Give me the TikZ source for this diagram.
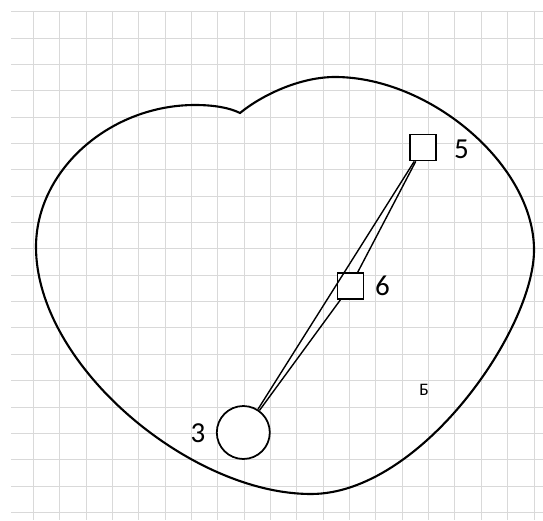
\documentclass[tikz,border=0pt]{standalone}
\usepackage{fontspec}
\setmainfont{Carlito}
\begin{document}
\begin{tikzpicture}[x=0.02cm,y=-0.02cm,
    cell/.style={draw=black!15,line width=0.5pt},
    box/.style={draw,fill=white,line width=1pt,minimum size=0.52cm,inner sep=0pt},
    ring/.style={draw,fill=white,circle,line width=1pt,minimum size=1.06cm,inner sep=0pt},
    num/.style={font=\fontsize{16.5}{18}\selectfont,inner sep=0pt},
    link/.style={line width=0.8pt}]
    \useasboundingbox (0,0) rectangle (543,520);

    % grid
    \foreach \k in {0,...,19} {
        \draw[cell] (11,11.7+26.35*\k) -- (543,11.7+26.35*\k);
        \draw[cell] (33.3+26.35*\k,11) -- (33.3+26.35*\k,520);
    }

    % outline
    \draw[line width=1.2pt] (240,113) .. controls (262,95) and (300,77) .. (335,77)
        .. controls (430,77) and (534,165) .. (534,250)
        .. controls (534,330) and (420,494) .. (311,494)
        .. controls (190,494) and (36,365) .. (36,247)
        .. controls (36,170) and (110,105) .. (195,105)
        .. controls (215,105) and (230,108) .. (240,113) -- cycle;

    \node[box] (s5) at (423,147.5) {};
    \node[box] (s6) at (350.5,286) {};
    \node[ring] (c3) at (243.3,432.5) {};

    \draw[link] (c3) -- (s5);
    \draw[link] (c3) -- (s6);
    \draw[link] (s6) -- (s5);

    \node[num] (l5) at (461.5,149) {5};
    \node[num] (l6) at (382.5,286) {6};
    \node[num] (l3) at (198,433) {3};
    \node[font=\fontsize{10}{12}\selectfont] (lb) at (424,390) {Б};
\end{tikzpicture}
\end{document}
